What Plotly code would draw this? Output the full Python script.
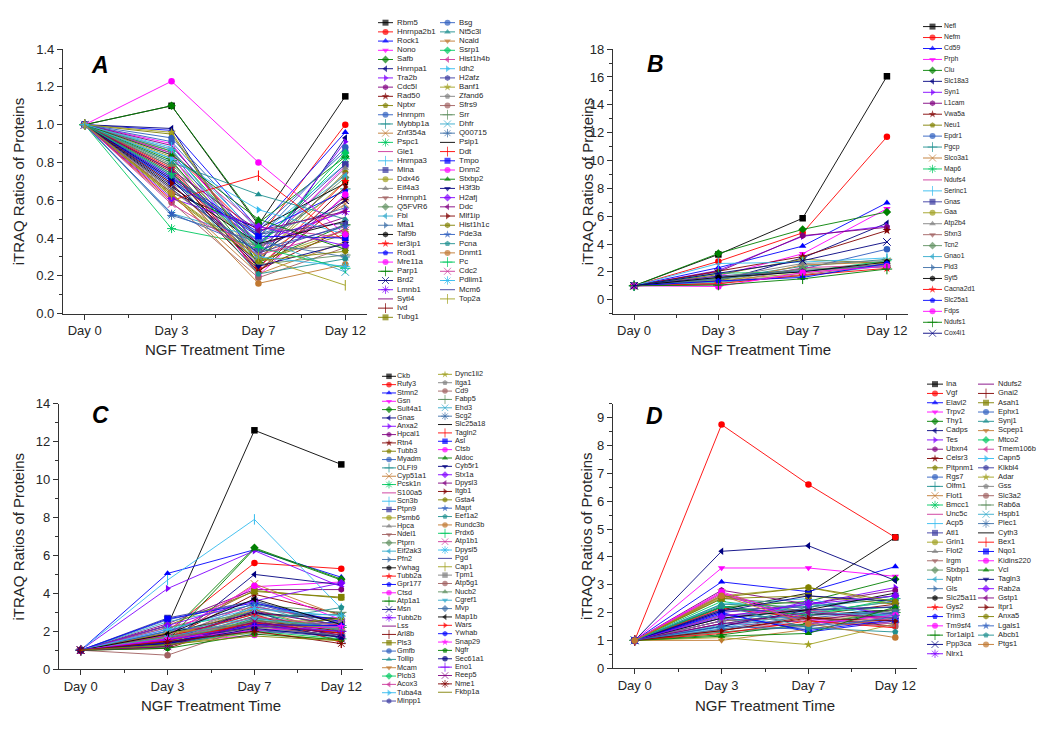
import plotly.graph_objects as go

# ---------------------------------------------------------------- data
DAYS = ["Day 0", "Day 3", "Day 7", "Day 12"]
BASELINE = 1.0  # every protein ratio is 1.0 at Day 0

A_NAMES = ["Rbm5", "Hnrnpa2b1", "Rock1", "Nono", "Safb", "Hnrnpa1", "Tra2b", "Cdc5l", "Rad50", "Nptxr",
           "Hnrnpm", "Mybbp1a", "Znf354a", "Pspc1", "Gle1", "Hnrnpa3", "Mina", "Ddx46", "Eif4a3", "Hnrnph1",
           "Q5FVR6", "Fbl", "Mta1", "Taf9b", "Ier3ip1", "Rod1", "Mre11a", "Parp1", "Brd2", "Lmnb1",
           "Sytl4", "Ivd", "Tubg1",
           "Bsg", "Nt5c3l", "Ncald", "Ssrp1", "Hist1h4b", "Idh2", "H2afz", "Banf1", "Zfand6", "Sfrs9",
           "Srr", "Dhfr", "Q00715", "Psip1", "Ddt", "Tmpo", "Dnm2", "Stxbp2", "H3f3b", "H2afj",
           "Ddc", "Mlf1ip", "Hist1h1c", "Pde3a", "Pcna", "Dnmt1", "Pc", "Cdc2", "Pdlim1", "Mcm6", "Top2a"]
A_DAY3 = [1.10, 0.86, 0.97, 0.90, 1.10, 0.98, 0.85, 0.78, 0.76, 0.95, 0.91, 0.82, 0.66, 0.45, 0.72, 0.88,
          0.74, 0.83, 0.80, 0.87, 0.79, 0.70, 0.69, 0.64, 0.77, 0.72, 0.84, 0.81, 0.68, 0.73, 0.89, 0.75, 0.62,
          0.93, 0.80, 0.63, 0.86, 0.85, 0.82, 0.71, 0.96, 0.65, 0.59, 0.78, 0.53, 0.52, 0.67, 0.60, 0.70,
          1.23, 0.84, 0.71, 0.61, 0.76, 0.69, 0.63, 0.53, 0.73, 0.64, 0.74, 0.58, 0.87, 0.66, 0.63]
A_DAY7 = [0.47, 0.40, 0.45, 0.33, 0.48, 0.26, 0.30, 0.25, 0.22, 0.28, 0.40, 0.38, 0.30, 0.36, 0.35, 0.41,
          0.37, 0.29, 0.33, 0.31, 0.34, 0.39, 0.42, 0.45, 0.24, 0.43, 0.20, 0.27, 0.32, 0.38, 0.36, 0.23, 0.28,
          0.44, 0.63, 0.21, 0.35, 0.46, 0.55, 0.42, 0.28, 0.33, 0.19, 0.26, 0.40, 0.38, 0.37, 0.73, 0.41,
          0.80, 0.50, 0.25, 0.46, 0.44, 0.22, 0.28, 0.34, 0.21, 0.16, 0.35, 0.31, 0.30, 0.32, 0.30]
A_DAY12 = [1.15, 1.00, 0.96, 0.78, 0.83, 0.93, 0.91, 0.62, 0.60, 0.75, 0.88, 0.66, 0.58, 0.82, 0.55, 0.79,
           0.79, 0.70, 0.77, 0.74, 0.72, 0.73, 0.56, 0.69, 0.70, 0.65, 0.63, 0.47, 0.60, 0.54, 0.51, 0.45, 0.42,
           0.86, 0.50, 0.38, 0.85, 0.40, 0.42, 0.48, 0.44, 0.36, 0.35, 0.31, 0.22, 0.30, 0.49, 0.38, 0.40,
           0.42, 0.34, 0.37, 0.36, 0.54, 0.67, 0.33, 0.46, 0.29, 0.26, 0.24, 0.44, 0.25, 0.47, 0.15]

B_NAMES = ["Nefl", "Nefm", "Cd59", "Prph", "Clu", "Slc18a3", "Syn1", "L1cam", "Vwa5a", "Neu1",
           "Epdr1", "Pgcp", "Slco3a1", "Map6", "Ndufs4", "Serinc1", "Gnas", "Gaa", "Atp2b4", "Sfxn3",
           "Tcn2", "Gnao1", "Pld3", "Syt5", "Cacna2d1", "Slc25a1", "Fdps", "Ndufs1", "Cox4i1"]
B_DAY3 = [3.25, 2.75, 2.30, 1.70, 3.32, 1.35, 2.10, 2.00, 2.05, 1.80, 1.60, 1.50, 1.20, 1.90, 1.10,
          2.60, 1.70, 1.40, 1.55, 1.30, 1.45, 1.25, 1.50, 1.60, 1.15, 1.35, 0.95, 1.05, 1.90]
B_DAY7 = [5.85, 4.80, 3.85, 3.30, 5.05, 3.00, 4.55, 4.60, 3.10, 2.90, 2.20, 2.40, 2.50, 2.00, 2.30,
          2.70, 2.10, 1.90, 2.60, 1.80, 2.20, 1.70, 2.05, 2.00, 1.75, 1.60, 1.95, 1.50, 2.80]
B_DAY12 = [16.05, 11.70, 6.96, 6.54, 6.30, 5.50, 5.30, 5.20, 4.97, 2.60, 3.63, 2.90, 2.70, 2.80, 2.50,
           3.00, 2.40, 2.60, 2.80, 2.50, 2.35, 2.45, 2.55, 2.70, 2.25, 2.60, 2.40, 2.20, 4.15]

C_NAMES = ["Ckb", "Rufy3", "Stmn2", "Gsn", "Sult4a1", "Gnas", "Anxa2", "Hpcal1", "Rtn4", "Tubb3",
           "Myadm", "OLFI9", "Cyp51a1", "Pcsk1n", "S100a5", "Scn3b", "Ptpn9", "Psmb6", "Hpca", "Ndel1",
           "Ptprn", "Eif2ak3", "Pfn2", "Ywhag", "Tubb2a", "Gpr177", "Ctsd", "Atp1a1", "Msn", "Tubb2b",
           "Lss", "Arl8b", "Pls3", "Gmfb", "Tollip", "Mcam", "Plcb3", "Acox3", "Tuba4a", "Minpp1",
           "Dync1li2", "Itga1", "Cd9", "Fabp5", "Ehd3", "Scg2", "Slc25a18", "Tagln2", "Asl", "Ctsb",
           "Aldoc", "Cyb5r1", "Stx1a", "Dpysl3", "Itgb1", "Gsta4", "Mapt", "Eef1a2", "Rundc3b", "Prdx6",
           "Atp1b1", "Dpysl5", "Pgd", "Cap1", "Tpm1", "Atp5g1", "Nucb2", "Cgref1", "Mvp", "Map1b",
           "Wars", "Ywhab", "Snap29", "Ngfr", "Sec61a1", "Eno1", "Reep5", "Nme1", "Fkbp1a"]
C_DAY3 = [2.30, 2.00, 5.05, 1.50, 1.80, 1.30, 4.25, 2.40, 1.60, 1.90, 1.20, 1.70, 1.40, 2.20, 1.60,
          4.70, 2.70, 1.50, 1.80, 1.30, 2.00, 2.50, 1.60, 1.90, 1.30, 1.70, 1.40, 1.20, 1.50, 2.10,
          1.80, 1.10, 2.30, 1.60, 1.40, 1.70, 1.25, 2.20, 1.50, 1.30,
          1.90, 1.45, 1.60, 1.15, 2.00, 2.60, 1.40, 1.70, 2.65, 1.80, 1.50, 1.35, 2.30, 1.60, 1.20,
          1.75, 2.00, 1.50, 1.90, 1.30, 1.55, 2.10, 1.40, 1.25, 1.65, 0.74, 1.45, 1.70, 1.30, 1.85,
          1.50, 1.40, 1.60, 1.10, 1.35, 1.55, 1.20, 1.45, 1.30]
C_DAY7 = [12.60, 5.60, 6.30, 4.35, 6.40, 5.00, 6.25, 4.20, 3.95, 4.15, 3.30, 3.10, 4.50, 3.00, 3.50,
          7.90, 3.60, 2.80, 3.20, 2.60, 2.40, 3.40, 2.90, 2.95, 2.50, 2.20, 1.80, 2.70, 3.05, 2.30,
          2.45, 2.60, 4.10, 2.00, 2.80, 3.15, 2.35, 3.30, 1.90, 2.05,
          2.50, 2.20, 2.40, 3.40, 2.70, 3.60, 2.30, 2.90, 3.50, 4.40, 6.35, 2.40, 3.60, 3.05, 2.60,
          2.15, 3.45, 2.55, 2.35, 2.00, 2.75, 3.20, 2.25, 1.95, 2.50, 2.30, 2.60, 2.65, 2.10, 3.70,
          2.45, 2.35, 2.05, 1.85, 2.15, 2.30, 2.50, 2.00, 1.75]
C_DAY12 = [10.80, 5.30, 4.85, 4.60, 4.75, 4.45, 4.35, 4.20, 2.90, 3.75, 2.50, 2.30, 2.80, 2.00, 2.20,
           3.20, 2.40, 2.10, 2.60, 1.90, 2.30, 2.00, 2.70, 2.65, 1.80, 2.50, 2.40, 2.20, 1.60, 1.70,
           2.10, 1.50, 3.80, 2.30, 2.90, 1.90, 2.00, 2.50, 2.20, 1.70,
           2.60, 1.80, 2.30, 3.00, 2.10, 2.20, 1.90, 1.40, 2.50, 2.60, 4.70, 1.70, 4.55, 2.30, 2.00,
           2.70, 2.40, 3.25, 2.20, 1.60, 2.30, 2.80, 2.00, 1.50, 2.40, 1.70, 2.10, 2.20, 1.80, 2.35,
           1.90, 2.30, 2.25, 1.55, 1.70, 2.00, 1.80, 1.35, 1.50]

D_NAMES = ["Ina", "Vgf", "Elavl2", "Trpv2", "Thy1", "Cadps", "Tes", "Ubxn4", "Celsr3", "Pitpnm1",
           "Rgs7", "Olfm1", "Flot1", "Bmcc1", "Unc5c", "Acp5", "Atl1", "Grin1", "Flot2", "Irgm",
           "Stxbp1", "Nptn", "Gls", "Slc25a11", "Gys2", "Trim3", "Tm9sf4", "Tor1aip1", "Ppp3ca", "Nlrx1",
           "Ndufs2", "Gnai2", "Asah1", "Ephx1", "Synj1", "Scpep1", "Mtco2", "Tmem106b", "Capn5", "Klkbl4",
           "Adar", "Gss", "Slc3a2", "Rab6a", "Hspb1", "Plec1", "Cyth3", "Bex1", "Nqo1", "Kidins220",
           "Vcl", "Tagln3", "Rab2a", "Gstp1", "Itpr1", "Anxa5", "Lgals1", "Abcb1", "Ptgs1"]
D_DAY3 = [2.10, 8.75, 3.10, 3.60, 2.20, 4.20, 2.00, 2.80, 1.70, 2.60, 1.90, 1.50, 2.70, 2.40, 1.60,
          2.30, 2.10, 2.60, 1.80, 1.40, 2.50, 1.90, 1.30, 2.20, 2.15, 2.00, 2.75, 1.20, 1.50, 1.70,
          1.60, 1.35, 2.50, 1.80, 2.30, 1.00, 2.20, 1.90, 1.45, 2.05, 1.10, 1.70, 2.65, 1.30, 1.55,
          1.40, 1.80, 1.25, 1.95, 2.70, 1.15, 2.05, 1.85, 1.60, 1.35, 2.55, 1.50, 2.25, 2.60]
D_DAY7 = [2.70, 6.60, 2.75, 3.60, 2.40, 4.40, 2.30, 2.30, 1.90, 2.00, 1.80, 2.20, 1.80, 2.00, 1.50,
          2.50, 2.20, 2.90, 2.10, 1.60, 2.30, 2.00, 1.50, 1.90, 1.80, 1.30, 1.75, 1.60, 2.10, 2.40,
          1.70, 1.85, 2.60, 1.50, 2.20, 1.40, 1.90, 2.10, 2.00, 2.10, 0.85, 1.80, 1.70, 1.55, 2.35,
          1.90, 2.10, 1.70, 1.35, 1.60, 1.25, 2.60, 2.30, 2.00, 1.80, 2.90, 1.40, 1.45, 1.60]
D_DAY12 = [4.70, 4.70, 3.65, 3.30, 3.20, 3.15, 2.90, 2.80, 2.30, 2.40, 2.10, 2.50, 1.90, 2.20, 2.00,
           1.80, 2.60, 2.30, 1.70, 1.90, 2.00, 2.40, 1.80, 2.10, 1.60, 1.70, 1.60, 2.00, 2.20, 1.90,
           2.10, 1.50, 2.30, 2.00, 2.60, 1.80, 2.50, 1.70, 1.90, 2.20, 1.60, 1.60, 1.50, 2.10, 1.80,
           2.00, 2.70, 1.45, 1.75, 1.90, 2.20, 2.40, 2.60, 1.80, 1.70, 2.40, 1.85, 1.30, 1.10]

# ---------------------------------------------------------------- style
FONT = "Liberation Sans, Arial, sans-serif"
INK = "#262626"
AXIS = "#333333"
COLORS = ["#000000", "#ff0000", "#0000ff", "#ff00ff", "#008000", "#000080", "#8000ff", "#800080",
          "#800000", "#808000", "#2f5fbf", "#1f9090", "#c07830", "#00c860", "#cc3399", "#33bbee",
          "#3a3aa0", "#a0a020", "#808080", "#a06060", "#5f9060", "#33aacc", "#3d6fa8"]
SYMBOLS = ["square", "circle", "triangle-up", "triangle-down", "diamond", "triangle-left",
           "triangle-right", "hexagon", "star", "pentagon", "circle", "cross-thin-open",
           "x-thin-open", "asterisk-open", "none", "line-ns-open"]

PANELS = [
    dict(key="A", names=A_NAMES, d3=A_DAY3, d7=A_DAY7, d12=A_DAY12, ax=("x", "y"),
         xdom=(63, 367), ydom=(43, 313), yrange=(0, 1.4), dtick=0.2, minor=0.1, fmt=".1f",
         ytitle_x=18, xtitle_y=350, letter=(100, 59), msize=6.5,
         legend=[(0, 33, 378, 397, 16, 9.4), (33, 31, 440, 459, 16, 9.4)], lfont=7.8, lsize=6, llen=15),
    dict(key="B", names=B_NAMES, d3=B_DAY3, d7=B_DAY7, d12=B_DAY12, ax=("x2", "y2"),
         xdom=(613, 908), ydom=(43, 313), yrange=(-1, 18), dtick=2, minor=1, fmt="d",
         ytitle_x=587, xtitle_y=350, letter=(655, 58), msize=6.5,
         legend=[(0, 29, 923, 944, 20, 11.18)], lfont=6.8, lsize=6, llen=19),
    dict(key="C", names=C_NAMES, d3=C_DAY3, d7=C_DAY7, d12=C_DAY12, ax=("x3", "y3"),
         xdom=(59, 363), ydom=(405, 676), yrange=(0, 14), dtick=2, minor=1, fmt="d",
         ytitle_x=18, xtitle_y=713, letter=(100, 417), msize=6.5,
         legend=[(0, 40, 382, 397, 377, 8.5), (40, 39, 438, 455, 375, 8.54)], lfont=7.3, lsize=5.5, llen=14),
    dict(key="D", names=D_NAMES, d3=D_DAY3, d7=D_DAY7, d12=D_DAY12, ax=("x4", "y4"),
         xdom=(613, 917), ydom=(405, 675), yrange=(0, 9.5), dtick=1, minor=0.5, fmt="d",
         ytitle_x=587, xtitle_y=713, letter=(654, 418), msize=6.5,
         legend=[(0, 30, 927, 946, 385, 9.49), (30, 29, 978, 998, 385, 9.49)], lfont=7.5, lsize=6, llen=16),
]

W, H = 1050, 735


def style_of(i):
    return COLORS[i % len(COLORS)], SYMBOLS[i % len(SYMBOLS)]


def marker_of(color, sym, size):
    if sym == "none":
        return dict(size=0, color=color)
    if sym.endswith("-open"):
        return dict(symbol=sym, size=size + 1, color=color, line=dict(color=color, width=1))
    return dict(symbol=sym, size=size, color=color, line=dict(width=0))


fig = go.Figure()
annotations = []
layout_axes = {}

for p in PANELS:
    names = p["names"]
    assert len(names) == len(p["d3"]) == len(p["d7"]) == len(p["d12"]), p["key"]
    xa, ya = p["ax"]
    for i, name in enumerate(names):
        color, sym = style_of(i)
        fig.add_trace(go.Scatter(
            x=[0, 1, 2, 3], y=[BASELINE, p["d3"][i], p["d7"][i], p["d12"][i]],
            name=name, xaxis=xa, yaxis=ya, cliponaxis=False,
            mode="lines" if sym == "none" else "lines+markers",
            line=dict(color=color, width=0.9),
            marker=marker_of(color, sym, p["msize"]),
            showlegend=False, hovertemplate=name + ": %{y}<extra></extra>"))

    # legend entries, laid out in columns on a pixel-scaled overlay axis
    for (start, count, lx, tx, y0, dy) in p["legend"]:
        rows = [y0 + k * dy for k in range(count)]
        for k in range(count):
            i = start + k
            color, sym = style_of(i)
            m = marker_of(color, sym, p["lsize"])
            if sym != "none":
                m["size"] = [0, m["size"], 0]
            fig.add_trace(go.Scatter(
                x=[lx, lx + p["llen"] / 2, lx + p["llen"]], y=[rows[k]] * 3,
                xaxis="x5", yaxis="y5", cliponaxis=False, hoverinfo="skip",
                mode="lines" if sym == "none" else "lines+markers",
                line=dict(color=color, width=0.9), marker=m, showlegend=False))
        fig.add_trace(go.Scatter(
            x=[tx] * count, y=rows, text=names[start:start + count], mode="text",
            textposition="middle right", xaxis="x5", yaxis="y5", cliponaxis=False,
            textfont=dict(family=FONT, size=p["lfont"], color=INK),
            hoverinfo="skip", showlegend=False))

    xname = "xaxis" + (xa[1:] or "")
    yname = "yaxis" + (ya[1:] or "")
    layout_axes[xname] = dict(
        domain=[p["xdom"][0] / W, p["xdom"][1] / W], anchor=ya, range=[-0.25, 3.25],
        tickmode="array", tickvals=[0, 1, 2, 3], ticktext=DAYS,
        showline=True, linecolor=AXIS, linewidth=1.3, ticks="outside", ticklen=5,
        tickwidth=1.2, tickcolor=AXIS, showgrid=False, zeroline=False,
        minor=dict(tickmode="linear", tick0=0.5, dtick=1, ticks="outside", ticklen=3,
                   tickcolor=AXIS, tickwidth=1),
        tickfont=dict(family=FONT, size=13, color=INK), fixedrange=True)
    layout_axes[yname] = dict(
        domain=[1 - p["ydom"][1] / H, 1 - p["ydom"][0] / H], anchor=xa, range=list(p["yrange"]),
        tickmode="linear", tick0=0, dtick=p["dtick"], tickformat=p["fmt"],
        showline=True, linecolor=AXIS, linewidth=1.3, ticks="outside", ticklen=5,
        tickwidth=1.2, tickcolor=AXIS, showgrid=False, zeroline=False,
        minor=dict(tickmode="linear", tick0=0, dtick=p["minor"], ticks="outside", ticklen=3,
                   tickcolor=AXIS, tickwidth=1),
        tickfont=dict(family=FONT, size=13, color=INK), fixedrange=True)

    xc = (p["xdom"][0] + p["xdom"][1]) / 2
    yc = (p["ydom"][0] + p["ydom"][1]) / 2
    annotations.append(dict(text="NGF Treatment Time", xref="paper", yref="paper",
                            x=xc / W, y=1 - p["xtitle_y"] / H, xanchor="center", yanchor="middle",
                            showarrow=False, font=dict(family=FONT, size=15, color=INK)))
    annotations.append(dict(text="iTRAQ Ratios of Proteins", xref="paper", yref="paper",
                            x=p["ytitle_x"] / W, y=1 - yc / H, xanchor="center", yanchor="middle",
                            textangle=-90, showarrow=False,
                            font=dict(family=FONT, size=15, color=INK)))
    annotations.append(dict(text="<b><i>%s</i></b>" % p["key"], xref="paper", yref="paper",
                            x=p["letter"][0] / W, y=1 - p["letter"][1] / H,
                            xanchor="center", yanchor="middle", showarrow=False,
                            font=dict(family=FONT, size=23, color="#000000")))

layout_axes["xaxis5"] = dict(domain=[0, 1], range=[0, W], visible=False, anchor="y5", fixedrange=True)
layout_axes["yaxis5"] = dict(domain=[0, 1], range=[H, 0], visible=False, anchor="x5", fixedrange=True)

fig.update_layout(
    width=W, height=H, margin=dict(l=0, r=0, t=0, b=0),
    paper_bgcolor="white", plot_bgcolor="rgba(0,0,0,0)",
    showlegend=False, annotations=annotations,
    font=dict(family=FONT, color=INK), **layout_axes)

fig.write_html("out.html", config={"displayModeBar": False},
               post_script="document.body.style.margin='0';document.body.style.overflow='hidden';")
